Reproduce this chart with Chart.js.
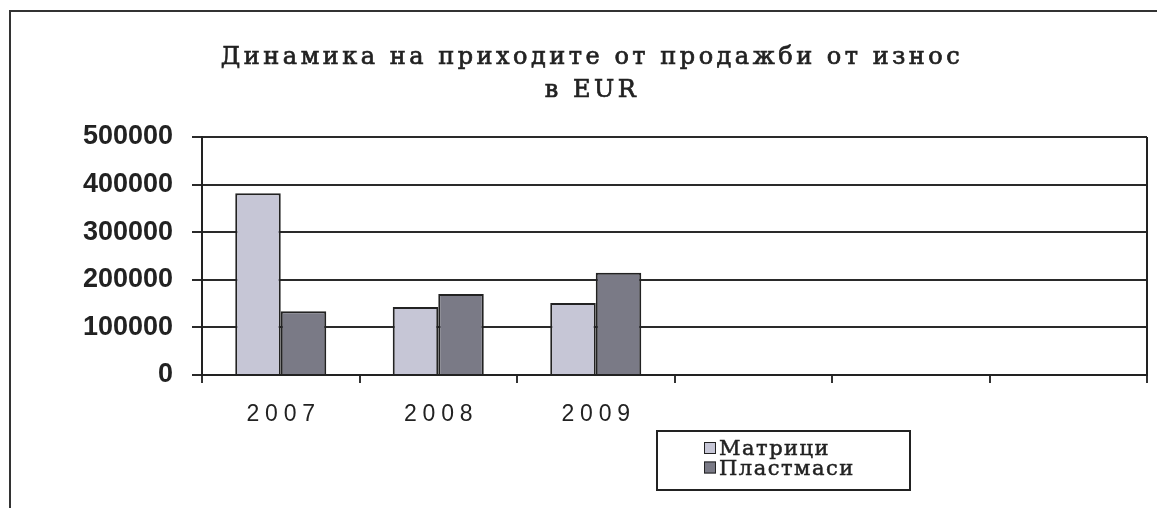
<!DOCTYPE html>
<html>
<head>
<meta charset="utf-8">
<title>Динамика на приходите от продажби от износ</title>
<script src="https://cdn.jsdelivr.net/npm/chart.js@4.4.1/dist/chart.umd.min.js"></script>
<style>
    html, body { margin: 0; padding: 0; background: #fff; }
    #wrap { width: 1157px; height: 508px; position: relative; }
</style>
</head>
<body>
<div id="wrap"><canvas id="exportChart" width="1157" height="508"></canvas></div>
<script>
// Export revenue by year, EUR
const years = ['2007', '2008', '2009', '', '', ''];
const matrici = [382000, 143000, 151000, null, null, null];
const plastmasi = [134000, 170000, 215000, null, null, null];
const seriesNames = ['Матрици', 'Пластмаси'];
const titleLines = ['Динамика на приходите от продажби от износ', 'в EUR'];
const yMax = 500000;
const yStep = 100000;

const INK = '#222';
const SERIF = "'DejaVu Serif', 'Liberation Serif', serif";
const colors = ['#c6c6d6', '#7a7a86'];

// outer frame + right edge of the plot
const framePlugin = {
    id: 'frame',
    beforeDraw(chart) {
        const ctx = chart.ctx;
        ctx.save();
        ctx.strokeStyle = '#333';
        ctx.lineWidth = 2;
        ctx.beginPath();
        ctx.moveTo(10, 508);
        ctx.lineTo(10, 11);
        ctx.lineTo(1157, 11);
        ctx.stroke();
        ctx.restore();
    },
    afterDraw(chart) {
        const ctx = chart.ctx;
        const area = chart.chartArea;
        ctx.save();
        ctx.strokeStyle = INK;
        ctx.lineWidth = 2;
        ctx.beginPath();
        ctx.moveTo(area.right, area.top);
        ctx.lineTo(area.right, area.bottom);
        ctx.stroke();
        ctx.restore();
    }
};

// spaced two-line heading (typewriter look)
const spacedTitle = {
    id: 'spacedTitle',
    afterDraw(chart) {
        const ctx = chart.ctx;
        ctx.save();
        ctx.font = '24px ' + SERIF;
        ctx.letterSpacing = '3.5px';
        ctx.fillStyle = INK;
        ctx.strokeStyle = INK;
        ctx.lineWidth = 0.7;
        ctx.textAlign = 'center';
        ctx.textBaseline = 'alphabetic';
        titleLines.forEach((line, i) => {
            ctx.fillText(line, 592, 64 + i * 33);
            ctx.strokeText(line, 592, 64 + i * 33);
        });
        ctx.restore();
    }
};

// boxed legend, entries stacked
const boxLegend = {
    id: 'boxLegend',
    afterDraw(chart) {
        const ctx = chart.ctx;
        const box = { x: 657, y: 431, w: 253, h: 59 };
        ctx.save();
        ctx.strokeStyle = INK;
        ctx.lineWidth = 2;
        ctx.strokeRect(box.x, box.y, box.w, box.h);
        ctx.font = '21px ' + SERIF;
        ctx.letterSpacing = '1.5px';
        ctx.textBaseline = 'alphabetic';
        chart.data.datasets.forEach((ds, i) => {
            const baseY = 455 + i * 19.5;
            ctx.fillStyle = ds.backgroundColor;
            ctx.fillRect(704, baseY - 13, 12, 12);
            ctx.lineWidth = 1;
            ctx.strokeRect(704.5, baseY - 12.5, 11, 11);
            ctx.fillStyle = INK;
            ctx.lineWidth = 0.5;
            ctx.fillText(ds.label, 719, baseY);
            ctx.strokeText(ds.label, 719, baseY);
        });
        ctx.restore();
    }
};

new Chart(document.getElementById('exportChart'), {
    type: 'bar',
    data: {
        labels: years,
        datasets: [{
            label: seriesNames[0],
            data: matrici,
            backgroundColor: colors[0],
            borderColor: INK,
            borderWidth: 2
        }, {
            label: seriesNames[1],
            data: plastmasi,
            backgroundColor: colors[1],
            borderColor: INK,
            borderWidth: 2
        }]
    },
    options: {
        responsive: false,
        animation: false,
        layout: { padding: { top: 137, right: 10, bottom: 0, left: 0 } },
        datasets: {
            bar: { categoryPercentage: 0.578, barPercentage: 1.0 }
        },
        plugins: {
            legend: { display: false },
            tooltip: { enabled: false },
            title: { display: false }
        },
        scales: {
            x: {
                offset: true,
                grid: {
                    offset: true,
                    drawOnChartArea: false,
                    drawTicks: true,
                    tickLength: 8,
                    color: '#333',
                    lineWidth: 2
                },
                border: { display: true, color: INK, width: 2 },
                ticks: {
                    color: INK,
                    padding: 18,
                    font: { family: "'Liberation Sans', Arial, sans-serif", size: 23 },
                    callback: (value, index) => years[index] ? years[index].split('').join('\u2005') : ''
                },
                afterFit(scale) { scale.height = 133; }
            },
            y: {
                min: 0,
                max: yMax,
                ticks: {
                    stepSize: yStep,
                    color: INK,
                    padding: 19,
                    font: { family: "'Liberation Sans', Arial, sans-serif", size: 27, weight: 'bold' },
                    callback: value => String(value)
                },
                grid: {
                    color: '#2a2a2a',
                    lineWidth: 2,
                    tickLength: 10
                },
                border: { display: true, color: INK, width: 2 },
                afterFit(scale) { scale.width = 202; }
            }
        }
    },
    plugins: [framePlugin, spacedTitle, boxLegend]
});
</script>
</body>
</html>
